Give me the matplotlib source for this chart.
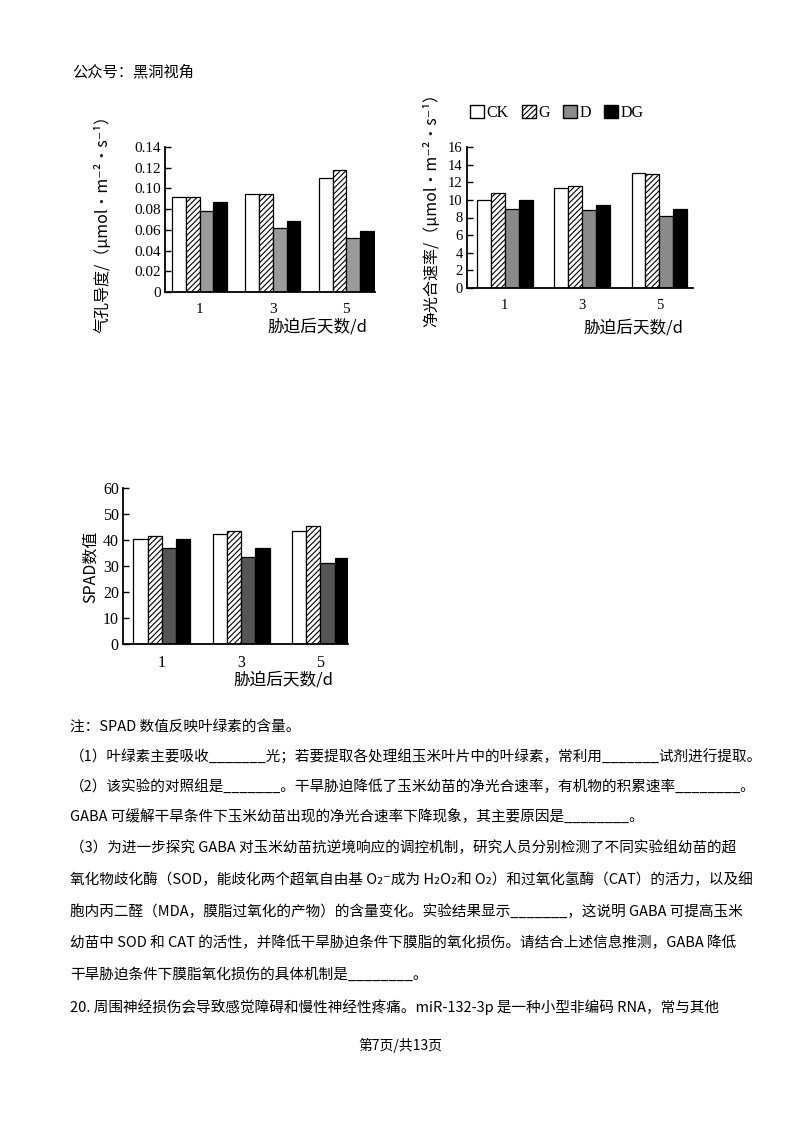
import matplotlib
matplotlib.use('Agg')
import matplotlib.pyplot as plt
from matplotlib.patches import Patch

plt.rcParams['font.family'] = ['Noto Sans CJK SC', 'DejaVu Sans']
plt.rcParams['hatch.linewidth'] = 0.8

# data
days = ['1', '3', '5']
groups = ['CK', 'G', 'D', 'DG']

gs_ck = [0.092, 0.095, 0.110]
gs_g = [0.092, 0.095, 0.118]
gs_d = [0.078, 0.062, 0.052]
gs_dg = [0.087, 0.069, 0.059]
gs_ticks = [0, 0.02, 0.04, 0.06, 0.08, 0.10, 0.12, 0.14]

pn_ck = [10.0, 11.4, 13.0]
pn_g = [10.8, 11.6, 12.9]
pn_d = [9.0, 8.8, 8.2]
pn_dg = [10.0, 9.4, 9.0]
pn_ticks = [0, 2, 4, 6, 8, 10, 12, 14, 16]

spad_ck = [40.5, 42.5, 43.5]
spad_g = [41.5, 43.5, 45.5]
spad_d = [37.0, 33.5, 31.0]
spad_dg = [40.5, 37.0, 33.0]
spad_ticks = [0, 10, 20, 30, 40, 50, 60]

serif = 'Liberation Serif'
W, H = 800, 1132

fig = plt.figure(figsize=(8, 11.32), dpi=100)


def box(l, t, r, b):
    return [l / W, 1 - b / H, (r - l) / W, (b - t) / H]


def bar_chart(rect, series, ticks, labels, xlim, width, dgray, fs):
    ax = fig.add_axes(rect)
    styles = [('white', None), ('white', '//////'), (dgray, None), ('black', None)]
    for i, vals in enumerate(series):
        fc, hatch = styles[i]
        xs = [k + (i - 1.5) * width for k in range(len(days))]
        ax.bar(xs, vals, width, color=fc, edgecolor='black', hatch=hatch, linewidth=0.9)
    ax.set_ylim(ticks[0], ticks[-1])
    ax.set_xlim(*xlim)
    ax.set_yticks(ticks)
    ax.set_yticklabels(labels, fontfamily=serif, fontsize=fs)
    ax.set_xticks(range(len(days)))
    ax.set_xticklabels(days, fontfamily=serif, fontsize=fs)
    ax.tick_params(axis='y', direction='in', length=4, width=1, pad=3)
    ax.tick_params(axis='x', length=0, pad=8)
    for s in ['top', 'right']:
        ax.spines[s].set_visible(False)
    for s in ['left', 'bottom']:
        ax.spines[s].set_linewidth(1.3)
    return ax


bar_chart(box(165, 147, 375, 292), [gs_ck, gs_g, gs_d, gs_dg], gs_ticks,
          ['0', '0.02', '0.04', '0.06', '0.08', '0.10', '0.12', '0.14'],
          (-0.47, 2.39), 0.187, '#9a9a9a', 11)
ax2 = bar_chart(box(467, 147, 693, 288), [pn_ck, pn_g, pn_d, pn_dg], pn_ticks,
                [str(t) for t in pn_ticks], (-0.49, 2.435), 0.18, '#8a8a8a', 10.5)
bar_chart(box(123, 488, 348, 644), [spad_ck, spad_g, spad_d, spad_dg], spad_ticks,
          [str(t) for t in spad_ticks], (-0.49, 2.35), 0.18, '#555555', 11.5)

# legend above the second chart
handles = [Patch(facecolor='white', edgecolor='black', label='CK'),
           Patch(facecolor='white', edgecolor='black', hatch='//////', label='G'),
           Patch(facecolor='#8a8a8a', edgecolor='black', label='D'),
           Patch(facecolor='black', edgecolor='black', label='DG')]
fig.legend(handles=handles, loc='center left', bbox_to_anchor=(470 / W, 1 - 113 / H),
           ncol=4, frameon=False, handlelength=0.9, handleheight=0.9, handletextpad=0.15,
           columnspacing=0.8, borderaxespad=0, borderpad=0,
           prop={'family': serif, 'size': 11.5})

# axis titles
fig.text(103 / W, 1 - 220 / H, '气孔导度/（μmol·m⁻²·s⁻¹）', rotation=90,
         ha='center', va='center', fontsize=11.5)
fig.text(432 / W, 1 - 206 / H, '净光合速率/（μmol·m⁻²·s⁻¹）', rotation=90,
         ha='center', va='center', fontsize=11.5)
fig.text(90 / W, 1 - 567 / H, 'SPAD数值', rotation=90,
         ha='center', va='center', fontsize=11.5)
fig.text(367 / W, 1 - 327 / H, '胁迫后天数/d', ha='right', va='center', fontsize=12)
fig.text(683 / W, 1 - 328 / H, '胁迫后天数/d', ha='right', va='center', fontsize=12)
fig.text(333 / W, 1 - 680 / H, '胁迫后天数/d', ha='right', va='center', fontsize=12)

# page text
fig.text(72 / W, 1 - 72 / H, '公众号：黑洞视角', ha='left', va='center', fontsize=11)

lines = [
    (727, '注：SPAD 数值反映叶绿素的含量。'),
    (757, '（1）叶绿素主要吸收_______光；若要提取各处理组玉米叶片中的叶绿素，常利用_______试剂进行提取。'),
    (786, '（2）该实验的对照组是_______。干旱胁迫降低了玉米幼苗的净光合速率，有机物的积累速率________。'),
    (816, 'GABA 可缓解干旱条件下玉米幼苗出现的净光合速率下降现象，其主要原因是________。'),
    (848, '（3）为进一步探究 GABA 对玉米幼苗抗逆境响应的调控机制，研究人员分别检测了不同实验组幼苗的超'),
    (880, '氧化物歧化酶（SOD，能歧化两个超氧自由基 O₂⁻成为 H₂O₂和 O₂）和过氧化氢酶（CAT）的活力，以及细'),
    (911, '胞内丙二醛（MDA，膜脂过氧化的产物）的含量变化。实验结果显示_______，这说明 GABA 可提高玉米'),
    (943, '幼苗中 SOD 和 CAT 的活性，并降低干旱胁迫条件下膜脂的氧化损伤。请结合上述信息推测，GABA 降低'),
    (975, '干旱胁迫条件下膜脂氧化损伤的具体机制是________。'),
    (1007, '20. 周围神经损伤会导致感觉障碍和慢性神经性疼痛。miR-132-3p 是一种小型非编码 RNA，常与其他'),
]
for y, s in lines:
    fig.text(70 / W, 1 - y / H, s, ha='left', va='center', fontsize=10.5)

fig.text(400 / W, 1 - 1045 / H, '第7页/共13页', ha='center', va='center', fontsize=10)

fig.savefig('out.png', dpi=100, facecolor='white')
